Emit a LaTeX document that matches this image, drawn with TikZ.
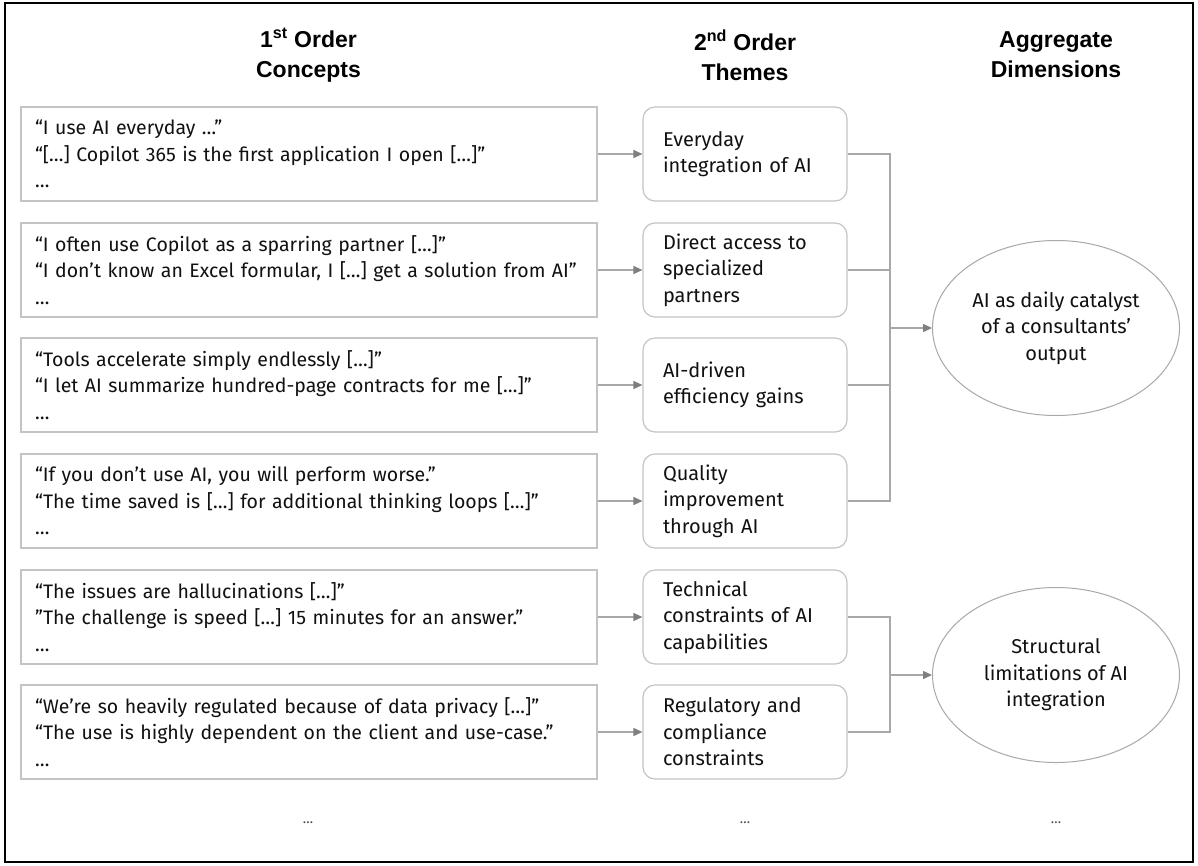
\documentclass[tikz,border=0pt]{standalone}
\usepackage{fontspec}
\setmainfont{Fira Sans}
\newfontfamily\hdrfont{Liberation Sans}
\usetikzlibrary{arrows.meta,shapes.geometric}
\definecolor{boxgray}{HTML}{C4C4C4}
\definecolor{linegray}{HTML}{A8A8A8}
\definecolor{tipgray}{HTML}{7F7F7F}
\definecolor{ellgray}{HTML}{A8A8A8}
\definecolor{ink}{HTML}{111111}
\begin{document}
\begin{tikzpicture}[x=1pt,y=-1pt,
  quote/.style={draw=boxgray, line width=1.2pt, minimum width=576pt, minimum height=94pt,
    text width=548pt, inner xsep=14pt, inner ysep=0pt, align=left, text=ink,
    font=\fontsize{19.5}{26.5}\selectfont},
  theme/.style={draw=boxgray, line width=1.2pt, rounded corners=12pt, minimum width=204pt,
    minimum height=94pt, text width=164pt, inner xsep=20pt, inner ysep=0pt, align=left, text=ink,
    font=\fontsize{20}{26.5}\selectfont},
  agg/.style={ellipse, draw=ellgray, line width=1pt, minimum width=247pt, minimum height=175pt,
    inner sep=0pt, align=center, text=ink, font=\fontsize{20}{26.5}\selectfont},
  hdr/.style={align=center, text=black, font=\hdrfont\bfseries\fontsize{23}{30}\selectfont},
  dots/.style={text=black!70, font=\fontsize{14}{16}\selectfont},
  conn/.style={draw=linegray, line width=1.3pt},
  arr/.style={conn, -{Triangle[length=9pt,width=8pt,color=tipgray]}}
]
\useasboundingbox (0,0) rectangle (1198,865);
\fill[white] (0,0) rectangle (1198,865);
\draw[line width=2.5pt, black] (5,3) rectangle (1193,862);

% headers
\node[hdr] (h1) at (308.5,55) {1\textsuperscript{st} Order\\Concepts};
\node[hdr] (h2) at (745,55) {2\textsuperscript{nd} Order\\Themes};
\node[hdr] (h3) at (1056,55) {Aggregate\\Dimensions};

% first order concepts
\node[quote] (q1) at (309,154) {“I use AI everyday …”\\“[…] Copilot 365 is the first application I open […]”\\…};
\node[quote] (q2) at (309,270) {“I often use Copilot as a sparring partner […]”\\“I don’t know an Excel formular, I […] get a solution from AI”\\…};
\node[quote] (q3) at (309,385) {“Tools accelerate simply endlessly […]”\\“I let AI summarize hundred-page contracts for me […]”\\…};
\node[quote] (q4) at (309,501) {“If you don’t use AI, you will perform worse.”\\“The time saved is […] for additional thinking loops […]”\\…};
\node[quote] (q5) at (309,617) {“The issues are hallucinations […]”\\”The challenge is speed […] 15 minutes for an answer.”\\…};
\node[quote] (q6) at (309,732) {“We’re so heavily regulated because of data privacy […]”\\“The use is highly dependent on the client and use-case.”\\…};

% second order themes
\node[theme] (t1) at (745,154) {Everyday\\integration of AI};
\node[theme] (t2) at (745,270) {Direct access to\\specialized\\partners};
\node[theme] (t3) at (745,385) {AI-driven\\efficiency gains};
\node[theme] (t4) at (745,501) {Quality\\improvement\\through AI};
\node[theme] (t5) at (745,617) {Technical\\constraints of AI\\capabilities};
\node[theme] (t6) at (745,732) {Regulatory and\\compliance\\constraints};

% aggregate dimensions
\node[agg] (a1) at (1056,328) {AI as daily catalyst\\of a consultants’\\output};
\node[agg] (a2) at (1056,675) {Structural\\limitations of AI\\integration};

% dots
\node[dots] (d1) at (308,823) {…};
\node[dots] (d2) at (745,823) {…};
\node[dots] (d3) at (1056,823) {…};

% connectors
\foreach \i in {1,...,6} {\draw[arr] (q\i.east) -- (t\i.west);}
\coordinate (j1) at (890,328);
\coordinate (j2) at (890,675);
\draw[conn] (t1.east) -| (j1);
\draw[conn] (t4.east) -| (j1);
\draw[conn] (t2.east) -- (t2.east -| j1);
\draw[conn] (t3.east) -- (t3.east -| j1);
\draw[conn] (t5.east) -| (j2);
\draw[conn] (t6.east) -| (j2);
\draw[arr] (j1) -- (a1);
\draw[arr] (j2) -- (a2);
\end{tikzpicture}
\end{document}
